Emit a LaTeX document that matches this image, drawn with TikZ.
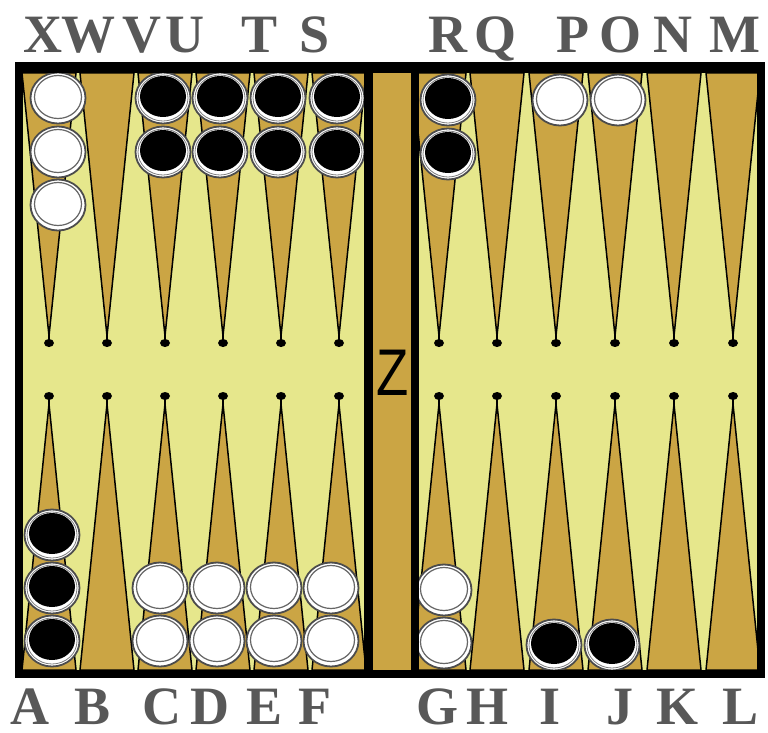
\documentclass[tikz,border=0pt]{standalone}
\usepackage{fontspec}
\setmainfont{Liberation Serif}
\newfontfamily\zfont{Liberation Sans}
\definecolor{boardbg}{RGB}{230,231,140}
\definecolor{pointgold}{RGB}{203,165,68}
\definecolor{labgray}{RGB}{88,88,88}
\tikzset{
  lab/.style={font=\rmfamily\bfseries\fontsize{54}{54}\selectfont, text=labgray, inner sep=0pt, anchor=base},
  pointtri/.style={fill=pointgold, draw=black, line width=1.5pt, line join=miter},
  tail/.style={draw=black, line width=1.4pt},
  wchecker/.pic={
    \fill[white] (0,0) ellipse (27.5 and 25.5);
    \draw[black!70, line width=1.8pt] (0,0) ellipse (27.5 and 25.5);
    \draw[black!60, line width=1.2pt] (0,-1) ellipse (23.5 and 21.5);
  },
  bchecker/.pic={
    \fill[white] (0,0) ellipse (27.5 and 25.5);
    \draw[black!70, line width=1.8pt] (0,0) ellipse (27.5 and 25.5);
    \draw[black!50, line width=0.8pt] (0,0) ellipse (25 and 23);
    \fill[black] (0,-1.5) ellipse (23 and 20.5);
  }
}
\begin{document}
\begin{tikzpicture}[x=1pt,y=-1pt]
\useasboundingbox (0,0) rectangle (768,733);
\fill[white] (0,0) rectangle (768,733);
% field
\fill[boardbg] (15,62) rectangle (765,678);
% points
\foreach \c in {49,107,165,223,281,339,439,497,556,615,674,733}{
  \path[pointtri] (\c-27,73) -- (\c,336) -- (\c+27,73) -- cycle;
  \path[tail] (\c,336) -- (\c,343);
  \fill[black] (\c,343) ellipse (5 and 4);
  \path[pointtri] (\c-27,670) -- (\c,404) -- (\c+27,670) -- cycle;
  \path[tail] (\c,404) -- (\c,396);
  \fill[black] (\c,396) ellipse (5 and 4);
}
% checkers top left
\foreach \y in {98,152,205} {\pic at (58,\y) {wchecker};}
\foreach \x in {163,220,278,337} {
  \pic at (\x,98) {bchecker};
  \pic at (\x,152) {bchecker};
}
% checkers top right
\pic at (448,100) {bchecker};
\pic at (448,154) {bchecker};
\pic at (560,100) {wchecker};
\pic at (618,100) {wchecker};
% checkers bottom left
\foreach \y in {535,588,641} {\pic at (52,\y) {bchecker};}
\foreach \x in {160,217,274,331} {
  \pic at (\x,588) {wchecker};
  \pic at (\x,641) {wchecker};
}
% checkers bottom right
\pic at (444,590) {wchecker};
\pic at (444,643) {wchecker};
\pic at (554,645) {bchecker};
\pic at (612,645) {bchecker};
% bar
\fill[pointgold] (373,73) rectangle (411,670);
% frame
\fill[black] (15,62) rectangle (765,73);
\fill[black] (15,670) rectangle (765,678);
\fill[black] (15,62) rectangle (23,678);
\fill[black] (757,62) rectangle (765,678);
\fill[black] (364,62) rectangle (373,678);
\fill[black] (411,62) rectangle (419,678);
% Z
\node[font=\zfont\fontsize{66}{66}\selectfont, inner sep=0pt] (z) at (393,373) {\scalebox{0.8}[1]{Z}};
% top labels
\node[lab] (lX) at (43,53) {X};
\node[lab] (lW) at (88,53) {W};
\node[lab] (lV) at (142,53) {V};
\node[lab] (lU) at (185,53) {U};
\node[lab] (lT) at (260,53) {T};
\node[lab] (lS) at (315,53) {S};
\node[lab] (lR) at (448,53) {R};
\node[lab] (lQ) at (495,53) {Q};
\node[lab] (lP) at (573,53) {P};
\node[lab] (lO) at (620,53) {O};
\node[lab] (lN) at (673,53) {N};
\node[lab] (lM) at (735,53) {M};
% bottom labels
\node[lab] (lA) at (30,724) {A};
\node[lab] (lB) at (93,724) {B};
\node[lab] (lC) at (162,724) {C};
\node[lab] (lD) at (210,724) {D};
\node[lab] (lE) at (265,724) {E};
\node[lab] (lF) at (315,724) {F};
\node[lab] (lG) at (437,724) {G};
\node[lab] (lH) at (487,724) {H};
\node[lab] (lI) at (550,724) {I};
\node[lab] (lJ) at (620,724) {J};
\node[lab] (lK) at (677,724) {K};
\node[lab] (lL) at (740,724) {L};
\end{tikzpicture}
\end{document}
